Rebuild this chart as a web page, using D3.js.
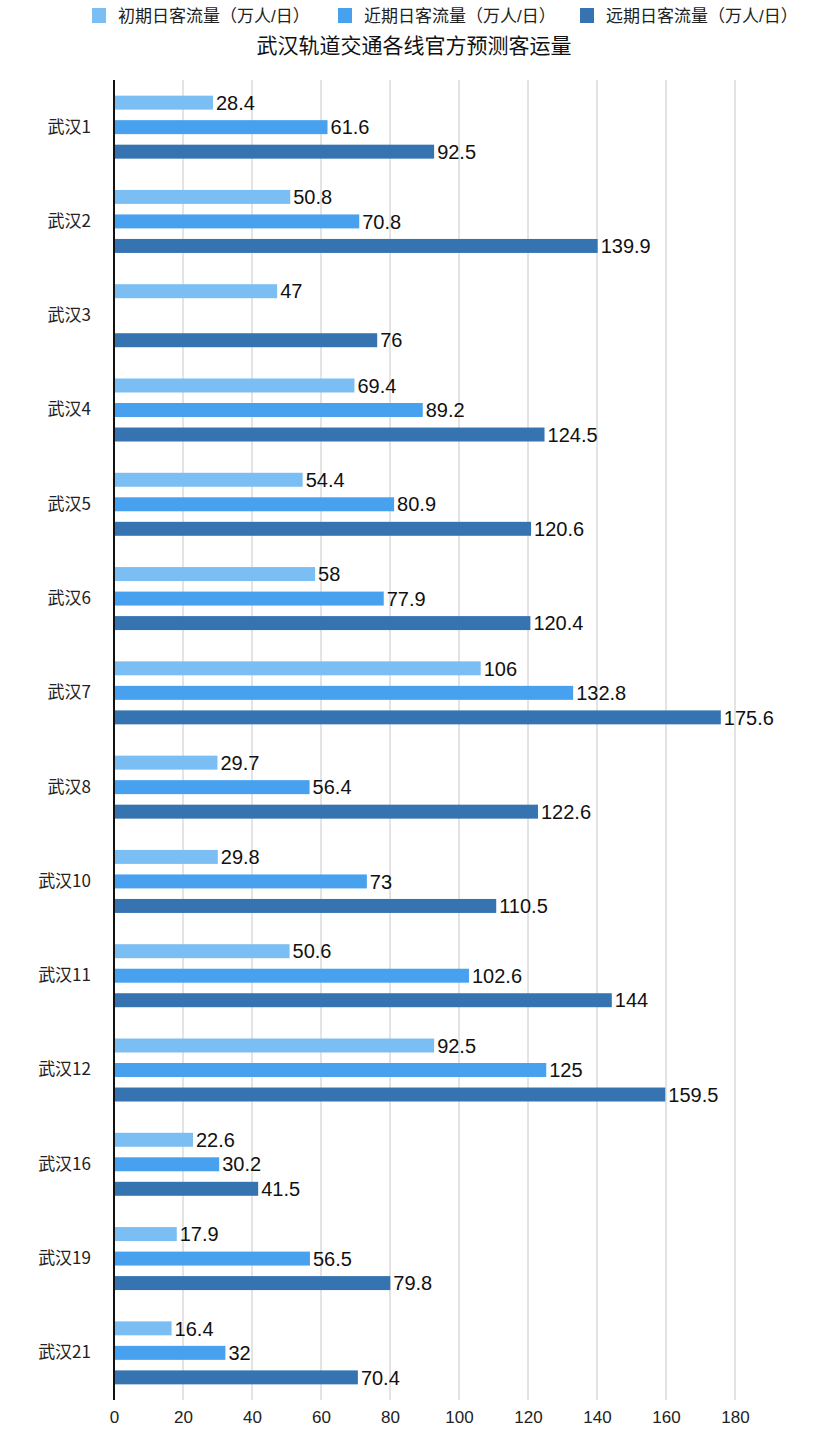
<!DOCTYPE html>
<html>
<head>
<meta charset="utf-8">
<script src="https://cdn.jsdelivr.net/npm/d3@7"></script>
<style>
  html, body { margin: 0; padding: 0; background: #fff; overflow: hidden; }
  svg { display: block; }
  text { font-family: "Liberation Sans", "Noto Sans CJK SC", sans-serif; }
</style>
</head>
<body>
<div id="chartContainer"></div>
<script>
// Data
const lines = ["武汉1", "武汉2", "武汉3", "武汉4", "武汉5", "武汉6", "武汉7", "武汉8",
  "武汉10", "武汉11", "武汉12", "武汉16", "武汉19", "武汉21"];
const seriesNames = ["初期日客流量（万人/日）", "近期日客流量（万人/日）", "远期日客流量（万人/日）"];
const initial = [28.4, 50.8, 47, 69.4, 54.4, 58, 106, 29.7, 29.8, 50.6, 92.5, 22.6, 17.9, 16.4];
const nearTerm = [61.6, 70.8, null, 89.2, 80.9, 77.9, 132.8, 56.4, 73, 102.6, 125, 30.2, 56.5, 32];
const longTerm = [92.5, 139.9, 76, 124.5, 120.6, 120.4, 175.6, 122.6, 110.5, 144, 159.5, 41.5, 79.8, 70.4];
const xTicks = [0, 20, 40, 60, 80, 100, 120, 140, 160, 180];
const colors = ["#7bbef4", "#48a1ef", "#3573b1"];

const w = 828;
const h = 1445;
const margins = { top: 80, left: 114, bottom: 45, right: 93 };
const innerWidth = w - margins.left - margins.right;
const innerHeight = h - margins.top - margins.bottom;

const series = [initial, nearTerm, longTerm];

const svg = d3.select("#chartContainer")
  .append("svg")
    .attr("width", w)
    .attr("height", h);

// Legend
const legendX = [92, 338, 580];
const legend = svg.append("g");
seriesNames.forEach((name, i) => {
  legend.append("rect")
    .attr("x", legendX[i])
    .attr("y", 8)
    .attr("width", 14)
    .attr("height", 15)
    .attr("fill", colors[i]);
  legend.append("text")
    .attr("x", legendX[i] + 26)
    .attr("y", 22)
    .attr("font-size", 17)
    .attr("fill", "#222")
    .text(name);
});

// Title
svg.append("text")
  .attr("x", w / 2)
  .attr("y", 53)
  .attr("text-anchor", "middle")
  .attr("font-size", 21)
  .attr("fill", "#111")
  .text("武汉轨道交通各线官方预测客运量");

const mainG = svg.append("g")
  .attr("transform", `translate(${margins.left}, ${margins.top})`);

const xScale = d3.scaleLinear()
  .domain([0, 180])
  .range([0, 621]);

const yScale = d3.scaleBand()
  .domain(lines)
  .range([0, innerHeight]);

const subScale = d3.scaleBand()
  .domain([0, 1, 2])
  .range([yScale.bandwidth() / 2 - 31.5, yScale.bandwidth() / 2 + 31.5])
  .paddingInner(0.43)
  .paddingOuter(0);

// Grid lines
mainG.append("g")
  .selectAll("line")
  .data(xTicks.slice(1))
  .enter()
  .append("line")
    .attr("x1", d => xScale(d))
    .attr("x2", d => xScale(d))
    .attr("y1", 0)
    .attr("y2", innerHeight)
    .attr("stroke", "#c8c8c8")
    .attr("stroke-width", 1);

// x axis labels
const xAxis = mainG.append("g")
  .attr("transform", `translate(0, ${innerHeight})`)
  .call(d3.axisBottom(xScale).tickValues(xTicks).tickSize(0).tickPadding(11));
xAxis.select(".domain").remove();
xAxis.selectAll("text")
  .attr("font-size", 17)
  .attr("fill", "#222")
  .style("font-family", "'Liberation Sans Narrow', 'Liberation Sans', sans-serif");

// Bars
series.forEach((vals, i) => {
  const rows = lines.map((l, j) => ({ line: l, value: vals[j] })).filter(d => d.value != null);
  const g = mainG.append("g");
  g.selectAll("rect")
    .data(rows)
    .enter()
    .append("rect")
      .attr("x", 1)
      .attr("y", d => yScale(d.line) + subScale(i))
      .attr("width", d => xScale(d.value))
      .attr("height", subScale.bandwidth())
      .attr("fill", colors[i]);
  g.selectAll("text")
    .data(rows)
    .enter()
    .append("text")
      .attr("x", d => xScale(d.value) + 4)
      .attr("y", d => yScale(d.line) + subScale(i) + subScale.bandwidth() / 2)
      .attr("dy", "0.36em")
      .attr("font-size", 20)
      .attr("fill", "#111")
      .text(d => d.value);
});

// y axis
const yAxis = mainG.append("g")
  .call(d3.axisLeft(yScale).tickSize(0).tickPadding(23));
yAxis.select(".domain").remove();
yAxis.selectAll("text")
  .attr("font-size", 17)
  .attr("fill", "#222")
  .style("font-family", "'Noto Sans CJK SC', sans-serif");

mainG.append("line")
  .attr("x1", 0)
  .attr("x2", 0)
  .attr("y1", 0)
  .attr("y2", innerHeight)
  .attr("stroke", "#111")
  .attr("stroke-width", 2);
</script>
</body>
</html>
